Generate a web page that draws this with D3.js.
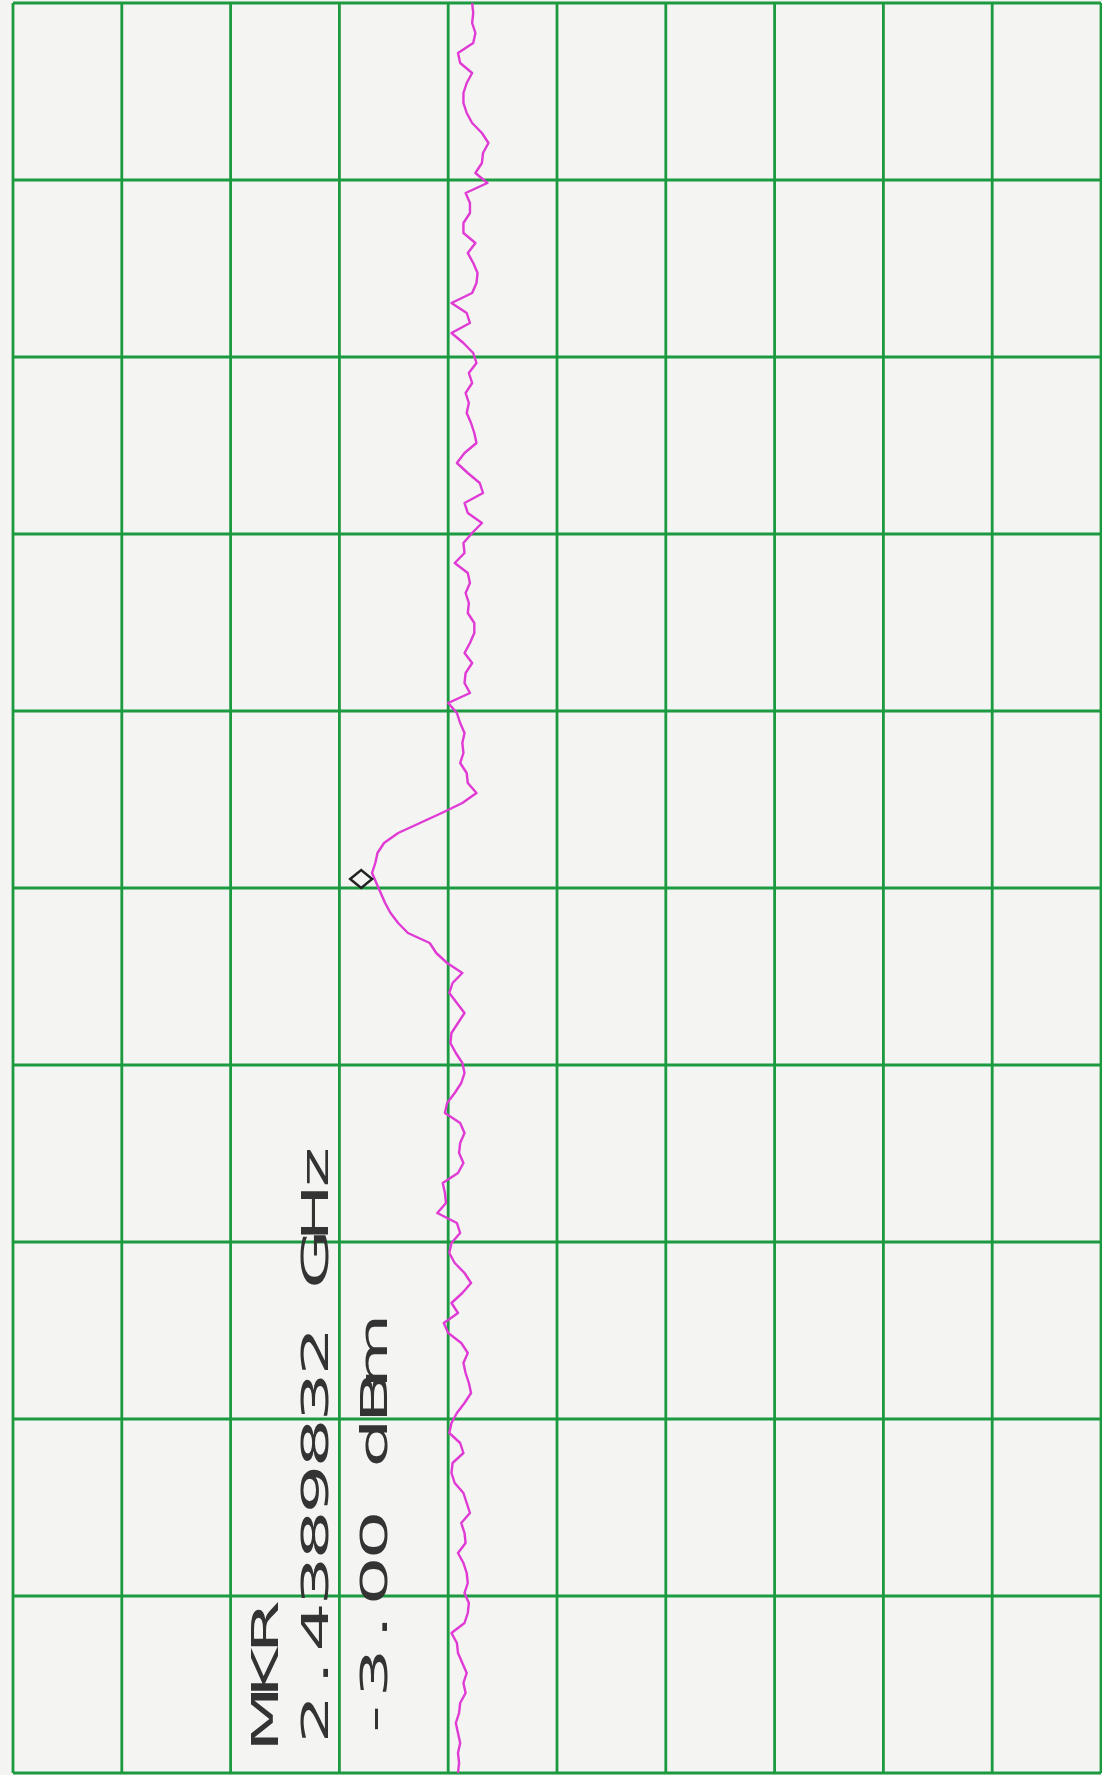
<!DOCTYPE html>
<html>
<head>
<meta charset="utf-8">
<script src="https://cdn.jsdelivr.net/npm/d3@7/dist/d3.min.js"></script>
<style>
  html, body { margin: 0; padding: 0; background: #f4f4f2; }
  svg { display: block; }
</style>
</head>
<body>
<svg id="chart" width="1102" height="1775"></svg>
<script>
// ---- data ----
const refLevel = 0.2;          // dBm at left edge of graticule
const dbPerDiv = 1;            // dB per division
const ampDivisions = [0,1,2,3,4,5,6,7,8,9,10];
const freqDivisions = [0,1,2,3,4,5,6,7,8,9,10];
const markerLabel = "MKR";
const markerFreqLabel = "2.4389832 GHz";
const markerAmpLabel = "-3.00 dBm";
const markerAmp = -3.00;
const markerIndex = 87.6;
// trace amplitude (dBm), one value per sweep point, top to bottom
const trace = [
 -4.02,-4.03,-4.02,-4.05,-4.03,-3.89,-3.91,-4.02,-3.97,-3.94,
 -3.94,-3.97,-4.02,-4.11,-4.17,-4.12,-4.11,-4.05,-4.16,-3.96,
 -4.00,-4.00,-3.94,-3.94,-4.05,-3.98,-4.03,-4.07,-4.06,-4.02,
 -3.83,-3.97,-4.00,-3.83,-3.94,-4.03,-4.06,-3.99,-4.02,-3.96,
 -3.99,-3.97,-4.01,-4.04,-4.06,-3.95,-3.88,-3.98,-4.09,-4.12,
 -3.95,-3.98,-4.11,-4.02,-3.94,-3.95,-3.86,-3.98,-4.00,-3.96,
 -3.99,-3.98,-4.04,-4.04,-4.00,-3.95,-4.02,-3.96,-3.95,-4.00,
 -3.80,-3.88,-3.91,-3.95,-3.93,-3.94,-3.91,-3.97,-3.98,-4.06,
 -3.93,-3.74,-3.54,-3.34,-3.21,-3.15,-3.13,-3.10,-3.14,-3.18,
 -3.22,-3.27,-3.34,-3.43,-3.63,-3.69,-3.79,-3.93,-3.84,-3.81,
 -3.88,-3.95,-3.89,-3.83,-3.82,-3.87,-3.93,-3.95,-3.92,-3.86,
 -3.79,-3.77,-3.91,-3.95,-3.91,-3.90,-3.94,-3.89,-3.75,-3.77,
 -3.78,-3.70,-3.88,-3.91,-3.83,-3.81,-3.86,-3.95,-4.01,-3.93,
 -3.83,-3.89,-3.76,-3.80,-3.92,-3.98,-3.94,-3.96,-3.99,-4.01,
 -3.95,-3.88,-3.83,-3.81,-3.91,-3.94,-3.84,-3.83,-3.86,-3.94,
 -3.97,-4.00,-3.92,-3.95,-3.96,-3.89,-3.94,-3.97,-3.98,-3.95,
 -3.99,-3.98,-3.95,-3.83,-3.88,-3.89,-3.93,-3.97,-3.94,-3.96,
 -3.91,-3.90,-3.87,-3.89,-3.91,-3.89,-3.90,-3.89
];

// ---- layout ----
const svg = d3.select("#chart");
const gLeft = 13, gRight = 1101, gTop = 3, gBottom = 1773;

const x = d3.scaleLinear()
  .domain([refLevel, refLevel - 10 * dbPerDiv])
  .range([gLeft, gRight]);
const y = d3.scaleLinear()
  .domain([0, trace.length - 1])
  .range([gTop, gBottom]);
const yDiv = d3.scaleLinear().domain([0, 10]).range([gTop, gBottom]);

svg.append("rect").attr("width", 1102).attr("height", 1775).attr("fill", "#f4f4f2");

const grid = svg.append("g").attr("stroke", "#1c9a40").attr("stroke-width", 2.8);
grid.selectAll("line.v").data(ampDivisions).join("line")
  .attr("class", "v")
  .attr("x1", d => x(refLevel - d * dbPerDiv)).attr("x2", d => x(refLevel - d * dbPerDiv))
  .attr("y1", gTop).attr("y2", gBottom);
grid.selectAll("line.h").data(freqDivisions).join("line")
  .attr("class", "h")
  .attr("x1", gLeft).attr("x2", gRight)
  .attr("y1", d => yDiv(d)).attr("y2", d => yDiv(d));

// trace
const line = d3.line()
  .x(d => x(d))
  .y((d, i) => y(i));
svg.append("path")
  .datum(trace)
  .attr("d", line)
  .attr("fill", "none")
  .attr("stroke", "#e03ad4")
  .attr("stroke-width", 2.4)
  .attr("stroke-linejoin", "round");

// marker diamond
const mx = x(markerAmp), my = y(markerIndex);
svg.append("path")
  .attr("d", `M${mx - 11},${my} L${mx},${my - 9} L${mx + 11},${my} L${mx},${my + 9} Z`)
  .attr("fill", "#f4f4f2")
  .attr("stroke", "#222")
  .attr("stroke-width", 2.5);

// marker readout: plotter-style fixed-pitch characters, rotated to read upward
const pitch = 46, startY = 1739;
const rows = [
  { t: markerLabel, bx: 278 },
  { t: markerFreqLabel, bx: 328 },
  { t: markerAmpLabel, bx: 387 }
];
const chars = [];
rows.forEach(r => {
  Array.from(r.t).forEach((c, k) => {
    if (c !== " ") chars.push({ c, bx: r.bx, cy: startY - k * pitch - 20 });
  });
});
svg.selectAll("text.mkr").data(chars).join("text")
  .attr("class", "mkr")
  .attr("transform", d => `translate(${d.bx},${d.cy}) rotate(-90) scale(2.05,1)`)
  .attr("text-anchor", "middle")
  .attr("font-family", "DejaVu Sans, sans-serif")
  .attr("font-size", 38)
  .attr("fill", "#333")
  .text(d => d.c);
</script>
</body>
</html>
